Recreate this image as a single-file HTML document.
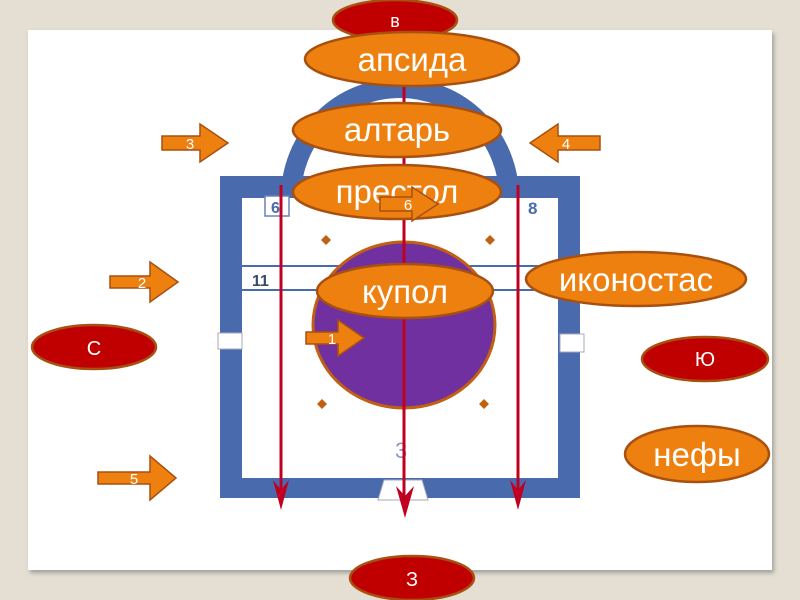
<!DOCTYPE html>
<html><head><meta charset="utf-8"><style>
html,body{margin:0;padding:0;background:#e4ded3;}
svg{display:block;font-family:"Liberation Sans","DejaVu Sans",sans-serif;}
</style></head><body>
<svg width="800" height="600" viewBox="0 0 800 600">
<defs>
<filter id="sh" x="-5%" y="-5%" width="110%" height="110%"><feDropShadow dx="2" dy="3" stdDeviation="2" flood-color="#777" flood-opacity="0.6"/></filter>
</defs>
<rect width="800" height="600" fill="#e4ded3"/>
<rect x="28" y="30" width="744" height="540" fill="#fff" filter="url(#sh)"/>
<path d="M291 197 A109 109 0 0 1 509 197" fill="none" stroke="#4a6aae" stroke-width="20"/>
<path d="M220 176 H580 V498 H220 Z M242 198 V478 H558 V198 Z" fill="#4a6aae" fill-rule="evenodd"/>
<line x1="242" y1="266" x2="558" y2="266" stroke="#4a6aae" stroke-width="2"/>
<line x1="242" y1="290" x2="558" y2="290" stroke="#4a6aae" stroke-width="2"/>
<text x="252" y="286" font-size="16" fill="#3a4a6a" font-weight="bold">11</text>
<rect x="265" y="196" width="24" height="20" fill="#fff" stroke="#6a82b8" stroke-width="1.5"/>
<text x="271" y="213" font-size="16" fill="#4a6aae" font-weight="bold">6</text>
<text x="528" y="214" font-size="17" fill="#4a6aae" font-weight="bold">8</text>
<text x="395" y="458" font-size="22" fill="#8a9ac0">3</text>
<path d="M384 480 H422 L428 500 H378 Z" fill="#fff" stroke="#aab" stroke-width="1"/>
<rect x="218" y="333" width="24" height="16" fill="#fff" stroke="#aab"/>
<rect x="560" y="334" width="24" height="18" fill="#fff" stroke="#aab"/>
<g fill="#c06010">
<path d="M326 235 l5 5 -5 5 -5 -5z"/><path d="M490 235 l5 5 -5 5 -5 -5z"/>
<path d="M322 399 l5 5 -5 5 -5 -5z"/><path d="M484 399 l5 5 -5 5 -5 -5z"/>
</g>
<ellipse cx="404" cy="325" rx="91" ry="83" fill="#7030a0" stroke="#c06010" stroke-width="3"/>
<g stroke="#c00020" stroke-width="3">
<line x1="281" y1="185" x2="281" y2="500"/>
<line x1="518" y1="185" x2="518" y2="500"/>
<line x1="404" y1="60" x2="404" y2="508"/>
</g>
<g fill="#c00020">
<path d="M273 480 L281 510 L289 480 L281 490Z"/>
<path d="M510 480 L518 510 L526 480 L518 490Z"/>
<path d="M396 486 L405 518 L414 486 L405 496Z"/>
</g>
<g stroke="#a85010" stroke-width="2.5">
<ellipse cx="395" cy="20" rx="62" ry="20" fill="#c00000"/>
<ellipse cx="412" cy="59" rx="107" ry="27" fill="#ee8010"/>
<ellipse cx="397" cy="130" rx="104" ry="27" fill="#ee8010"/>
<ellipse cx="397" cy="192" rx="104" ry="27" fill="#ee8010"/>
<ellipse cx="405" cy="291" rx="88" ry="27" fill="#ee8010"/>
<ellipse cx="636" cy="279" rx="110" ry="27" fill="#ee8010"/>
<ellipse cx="94" cy="347" rx="62" ry="22" fill="#c00000"/>
<ellipse cx="705" cy="359" rx="63" ry="22" fill="#c00000"/>
<ellipse cx="697" cy="454" rx="72" ry="28" fill="#ee8010"/>
<ellipse cx="412" cy="578" rx="62" ry="22" fill="#c00000"/>
</g>
<g fill="#fff" text-anchor="middle">
<text x="395" y="27" font-size="18">в</text>
<text x="412" y="71" font-size="33">апсида</text>
<text x="397" y="141" font-size="33">алтарь</text>
<text x="397" y="203" font-size="33">престол</text>
<text x="405" y="303" font-size="33">купол</text>
<text x="636" y="291" font-size="33">иконостас</text>
<text x="94" y="355" font-size="20">С</text>
<text x="705" y="366" font-size="20">Ю</text>
<text x="697" y="466" font-size="33">нефы</text>
<text x="412" y="586" font-size="20">З</text>
</g>
<g fill="#ee8010" stroke="#a85010" stroke-width="1.5">
<path d="M162 136 H200 V124 L228 143 L200 162 V150 H162 Z"/>
<path d="M600 136 H558 V124 L530 143 L558 162 V150 H600 Z"/>
<path d="M110 276 H150 V262 L178 282 L150 302 V288 H110 Z"/>
<path d="M98 472 H150 V456 L176 478 L150 500 V484 H98 Z"/>
<path d="M380 197 H412 V187 L438 204 L412 221 V211 H380 Z"/>
<path d="M306 332 H338 V320 L364 338 L338 356 V344 H306 Z"/>
</g>
<g fill="#fff" font-size="15" text-anchor="middle">
<text x="190" y="149">3</text>
<text x="566" y="149">4</text>
<text x="142" y="288">2</text>
<text x="134" y="484">5</text>
<text x="408" y="210">6</text>
<text x="332" y="344">1</text>
</g>
</svg>
</body></html>
